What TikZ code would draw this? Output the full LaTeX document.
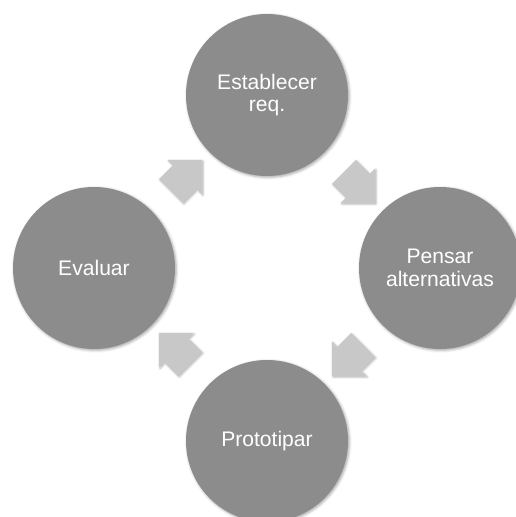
\documentclass[tikz,border=0pt]{standalone}
\usepackage{fontspec}
\setmainfont{Liberation Sans}
\usepackage{tikz}
\usetikzlibrary{shapes.arrows,calc,shadows.blur}
\definecolor{stagegray}{HTML}{8C8C8C}
\definecolor{flowgray}{HTML}{C8C8C8}
\tikzset{
  every picture/.style={line join=round, line cap=round},
  stage/.style={circle, fill=stagegray, minimum size=3.24cm, inner sep=0pt,
    text=white, align=center, font=\fontsize{12}{12.7}\selectfont,
    blur shadow={shadow xshift=0.7pt, shadow yshift=-0.7pt, shadow blur radius=1.5pt, shadow opacity=35}},
  flow/.style={single arrow, fill=flowgray, minimum height=0.88cm,
    inner xsep=0pt, inner ysep=0.33cm,
    single arrow head extend=0.15cm, single arrow tip angle=90,
    blur shadow={shadow xshift=0.6pt, shadow yshift=-0.6pt, shadow blur radius=1.2pt, shadow opacity=30}},
}

\begin{document}
\begin{tikzpicture}
\useasboundingbox (-5.34,-4.98) rectangle (4.96,5.36);
\node[stage] (req) at (0,3.46) {Establecer\\req.};
\node[stage] (alt) at (3.46,0) {Pensar\\alternativas};
\node[stage] (proto) at (0,-3.46) {Prototipar};
\node[stage] (eval) at (-3.46,0) {Evaluar};
\node[flow, rotate=-45] (reqalt) at ($(req)!.5!(alt)$) {};
\node[flow, rotate=-135] (altproto) at ($(alt)!.5!(proto)$) {};
\node[flow, rotate=135] (protoeval) at ($(proto)!.5!(eval)$) {};
\node[flow, rotate=45] (evalreq) at ($(eval)!.5!(req)$) {};
\end{tikzpicture}
\end{document}
